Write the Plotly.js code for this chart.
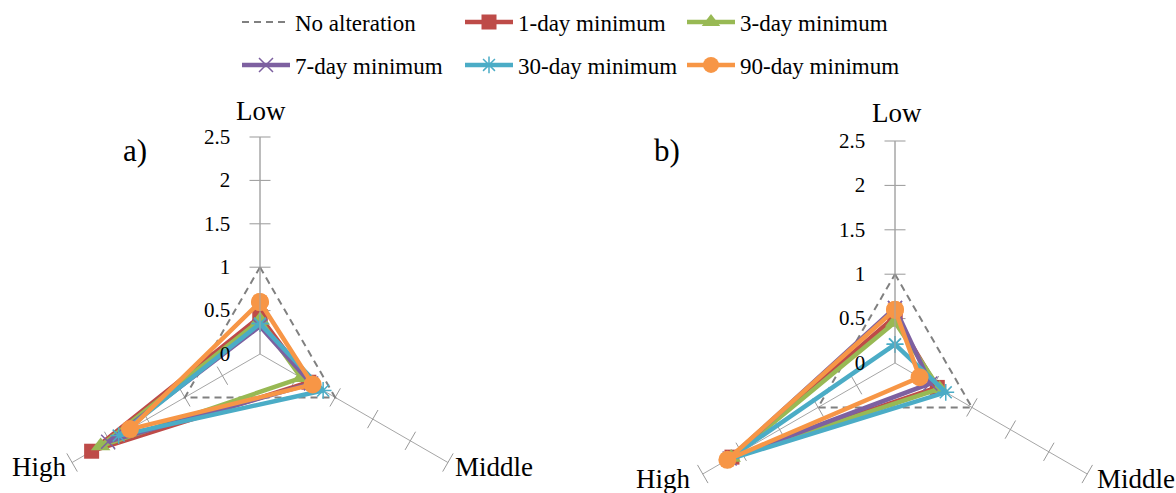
<!DOCTYPE html>
<html><head><meta charset="utf-8">
<script src="https://cdn.plot.ly/plotly-3.0.1.min.js"></script>
<style>
html,body{margin:0;padding:0;background:#fff;width:1176px;height:493px;overflow:hidden}
#wrap{width:1176px;height:493px;overflow:hidden;position:relative}
#chart{width:1176px;height:600px}
</style>
</head><body><div id="wrap"><div id="chart"></div></div>
<script>
// ---- data ----
const categories = ['Low', 'Middle', 'High'];
const seriesNames = ['No alteration', '1-day minimum', '3-day minimum', '7-day minimum', '30-day minimum', '90-day minimum'];
const noAlteration = [1, 1, 1];
// panel a)
const aDay1  = [0.43, 0.65, 2.24];
const aDay3  = [0.39, 0.55, 2.12];
const aDay7  = [0.32, 0.68, 2.02];
const aDay30 = [0.35, 0.84, 1.88];
const aDay90 = [0.60, 0.70, 1.73];
// panel b)
const bDay1  = [0.52, 0.55, 2.12];
const bDay3  = [0.46, 0.58, 2.13];
const bDay7  = [0.62, 0.46, 2.15];
const bDay30 = [0.21, 0.66, 2.18];
const bDay90 = [0.60, 0.32, 2.18];
const radialTickVals = [0, 0.5, 1, 1.5, 2, 2.5];
const radialTickText = ['0', '0.5', '1', '1.5', '2', '2.5'];
const panelLabels = ['a)', 'b)'];

// ---- styles ----
const FONT = 'Liberation Serif';
const colors = ['#808080', '#BE4B48', '#98B954', '#7D60A0', '#4BACC6', '#F79646'];
const symbols = [null, 'square', 'triangle-up', 'x-thin', 'asterisk', 'circle'];
const msizes = [0, 15, 17, 14, 14, 18];
const spokeColor = '#a6a6a6';

function closed(arr) { return arr.concat([arr[0]]); }

const panelA = [noAlteration, aDay1, aDay3, aDay7, aDay30, aDay90];
const panelB = [noAlteration, bDay1, bDay3, bDay7, bDay30, bDay90];

const traces = [];
// tick marks on every spoke
function tickTrace(sub) {
  const th = [], rr = [], ang = [];
  const angFor = {Low: 90, Middle: 30, High: -30};
  categories.forEach(c => {
    radialTickVals.slice(1).forEach(v => { th.push(c); rr.push(v); ang.push(angFor[c]); });
  });
  return {type: 'scatterpolar', subplot: sub, theta: th, r: rr, mode: 'markers',
    marker: {symbol: 'line-ns', size: 15, angle: ang, line: {color: '#999999', width: 1}},
    hoverinfo: 'skip', showlegend: false, cliponaxis: false};
}
traces.push(tickTrace('polar'));
traces.push(tickTrace('polar2'));

const legendNames = ['legend', 'legend2', 'legend3', 'legend4', 'legend5', 'legend6'];
[panelA, panelB].forEach((panel, p) => {
  panel.forEach((vals, i) => {
    const t = {
      type: 'scatterpolar', subplot: p === 0 ? 'polar' : 'polar2',
      name: seriesNames[i], theta: closed(categories), r: closed(vals),
      cliponaxis: false, hoverinfo: 'name+r+theta',
      showlegend: p === 0, legend: legendNames[i]
    };
    if (i === 0) {
      t.mode = 'lines';
      t.line = {color: colors[0], width: 2, dash: '7px,5px'};
    } else {
      t.mode = 'lines+markers';
      t.line = {color: colors[i], width: 4.5};
      const thin = symbols[i] === 'x-thin' || symbols[i] === 'asterisk';
      t.marker = {symbol: symbols[i], size: msizes[i], color: colors[i],
        line: thin ? {color: colors[i], width: 1.5} : {width: 0}};
    }
    traces.push(t);
  });
});

function polarLayout(dom) {
  return {
    domain: dom,
    bgcolor: 'rgba(0,0,0,0)',
    angularaxis: {
      type: 'category', categoryorder: 'array', categoryarray: categories,
      rotation: 90, direction: 'clockwise', showline: false, showgrid: true,
      gridcolor: spokeColor, gridwidth: 1, ticks: '', showticklabels: false
    },
    radialaxis: {
      range: [0, 2.5], angle: 90, showline: true, linecolor: spokeColor, linewidth: 1,
      showgrid: false, tickmode: 'array', tickvals: radialTickVals, ticktext: radialTickText,
      ticks: 'outside', ticklen: 22, tickcolor: 'rgba(0,0,0,0)', side: 'counterclockwise',
      tickangle: 90, tickfont: {family: FONT, size: 21, color: '#000'}
    }
  };
}

const W = 1176, H = 600; // plot is taller than the 493px window; the lower part is hidden
function px(x) { return x / W; }
function py(y) { return 1 - y / H; }
// panel a: centre (260,354), r 217 ; panel b: centre (895,363), r 222
function dom(cx, cy, r) {
  return {x: [px(cx - r), px(cx + r)], y: [py(cy + r), py(cy - r)]};
}

// category label positions (text placement only)
const catLabelPos = [
  [[261, 111], [494, 467], [39, 467]],
  [[897, 113], [1136, 479], [663, 479]]
];
const annotations = [
  {text: panelLabels[0], x: px(135), y: py(150)},
  {text: panelLabels[1], x: px(667), y: py(150)}
].map(a => Object.assign(a, {xref: 'paper', yref: 'paper', xanchor: 'center', yanchor: 'middle',
  showarrow: false, font: {family: FONT, size: 31, color: '#000'}}));
catLabelPos.forEach(panel => panel.forEach((pos, k) => {
  annotations.push({text: categories[k], x: px(pos[0]), y: py(pos[1]), xref: 'paper', yref: 'paper',
    xanchor: 'center', yanchor: 'middle', showarrow: false, font: {family: FONT, size: 27, color: '#000'}});
}));

// legend items placed individually (three aligned columns, two rows)
const legendPos = [[237, 22], [460, 22], [682, 22], [237, 65], [460, 65], [682, 65]];
const layout = {
  width: W, height: H, autosize: false,
  margin: {l: 0, r: 0, t: 0, b: 0},
  paper_bgcolor: '#fff',
  font: {family: FONT, color: '#000'},
  polar: polarLayout(dom(260, 354, 217)),
  polar2: polarLayout(dom(895, 363, 222)),
  annotations: annotations
};
legendNames.forEach((ln, i) => {
  layout[ln] = {orientation: 'h', x: px(legendPos[i][0]), y: py(legendPos[i][1]), xanchor: 'left', yanchor: 'middle',
    bgcolor: 'rgba(0,0,0,0)', borderwidth: 0, itemwidth: 48, font: {family: FONT, size: 23, color: '#000'}};
});

Plotly.newPlot('chart', traces, layout, {displayModeBar: false, staticPlot: true});
</script>
</body></html>
